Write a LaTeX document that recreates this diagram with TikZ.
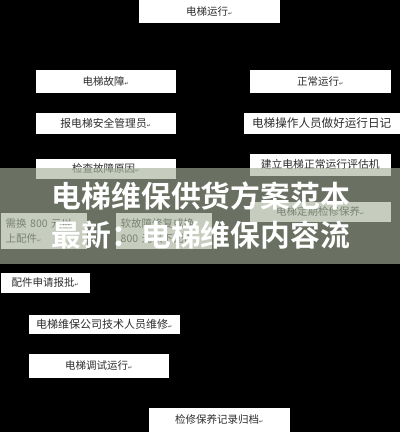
\documentclass[tikz,border=0pt]{standalone}
\usepackage{fontspec}
\setmainfont{DejaVu Sans}
\newfontfamily\cjk{Noto Sans CJK SC}
\newfontfamily\cjkb{Noto Sans CJK SC Bold}
\newfontfamily\symf{DejaVu Sans}
\newcommand{\rmk}{{\symf\fontsize{5}{5}\selectfont ↵}}
\definecolor{bandc}{RGB}{166,178,155}
\definecolor{txtc}{RGB}{45,45,45}
\tikzset{
  box/.style={draw=white, fill=white, anchor=north west, inner sep=0pt, text=txtc,
    font=\cjk\fontsize{10.5}{12}\selectfont, align=center}
}
\begin{document}
\begin{tikzpicture}[x=1pt,y=-1pt]
\fill[black] (0,0) rectangle (400,432);
\useasboundingbox (0,0) rectangle (400,432);
\node[box, minimum width=140pt, minimum height=22pt] (b1) at (139,0) {电梯运行\rmk};
\node[box, minimum width=139pt, minimum height=22pt] (b2) at (36,70) {电梯故障\rmk};
\node[box, minimum width=140pt, minimum height=22pt] (b3) at (250,70) {正常运行\rmk};
\node[box, minimum width=139pt, minimum height=20pt, font=\cjk\fontsize{10.8}{12}\selectfont] (b4) at (36,113) {报电梯安全管理员\rmk};
\node[box, minimum width=155pt, minimum height=20pt, font=\cjk\fontsize{11.6}{12}\selectfont] (b5) at (244,113) {电梯操作人员做好运行日记};
\node[box, minimum width=139pt, minimum height=19pt] (b6) at (36,159) {检查故障原因\rmk};
\node[box, minimum width=140pt, minimum height=21pt, font=\cjk\fontsize{10.8}{12}\selectfont] (b7) at (250,154) {建立电梯正常运行评估机};
\node[box, minimum width=140pt, minimum height=19pt] (b8) at (250,202) {电梯定期检修保养\rmk};
\node[box, minimum width=85pt, minimum height=35pt, align=left, text width=80pt, font=\cjk\fontsize{10.5}{15}\selectfont] (b9) at (1,213) {\hspace*{2pt}需换 800 元以\\\hspace*{2pt}上配件\rmk};
\node[box, minimum width=95pt, minimum height=35pt, align=left, text width=90pt, font=\cjk\fontsize{10.5}{15}\selectfont] (b10) at (116,213) {\hspace*{2pt}软故障修复或换\\\hspace*{2pt}800 元以下配件};
\node[box, minimum width=88pt, minimum height=19pt] (b11) at (1,273) {配件申请报批\rmk};
\node[box, minimum width=150pt, minimum height=18pt, font=\cjk\fontsize{11}{12}\selectfont] (b12) at (29,315) {电梯维保公司技术人员维修\rmk};
\node[box, minimum width=139pt, minimum height=23pt] (b13) at (29,354) {电梯调试运行\rmk};
\node[box, minimum width=140pt, minimum height=23pt] (b14) at (149,408) {检修保养记录归档\rmk};
\fill[bandc, fill opacity=0.64] (0,168) rectangle (400,264);
\node[font=\cjkb\fontsize{29.8}{39}\selectfont, text=white, align=center, inner sep=0pt] (title) at (201,216) {电梯维保供货方案范本\\最新：电梯维保内容流};
\end{tikzpicture}
\end{document}
